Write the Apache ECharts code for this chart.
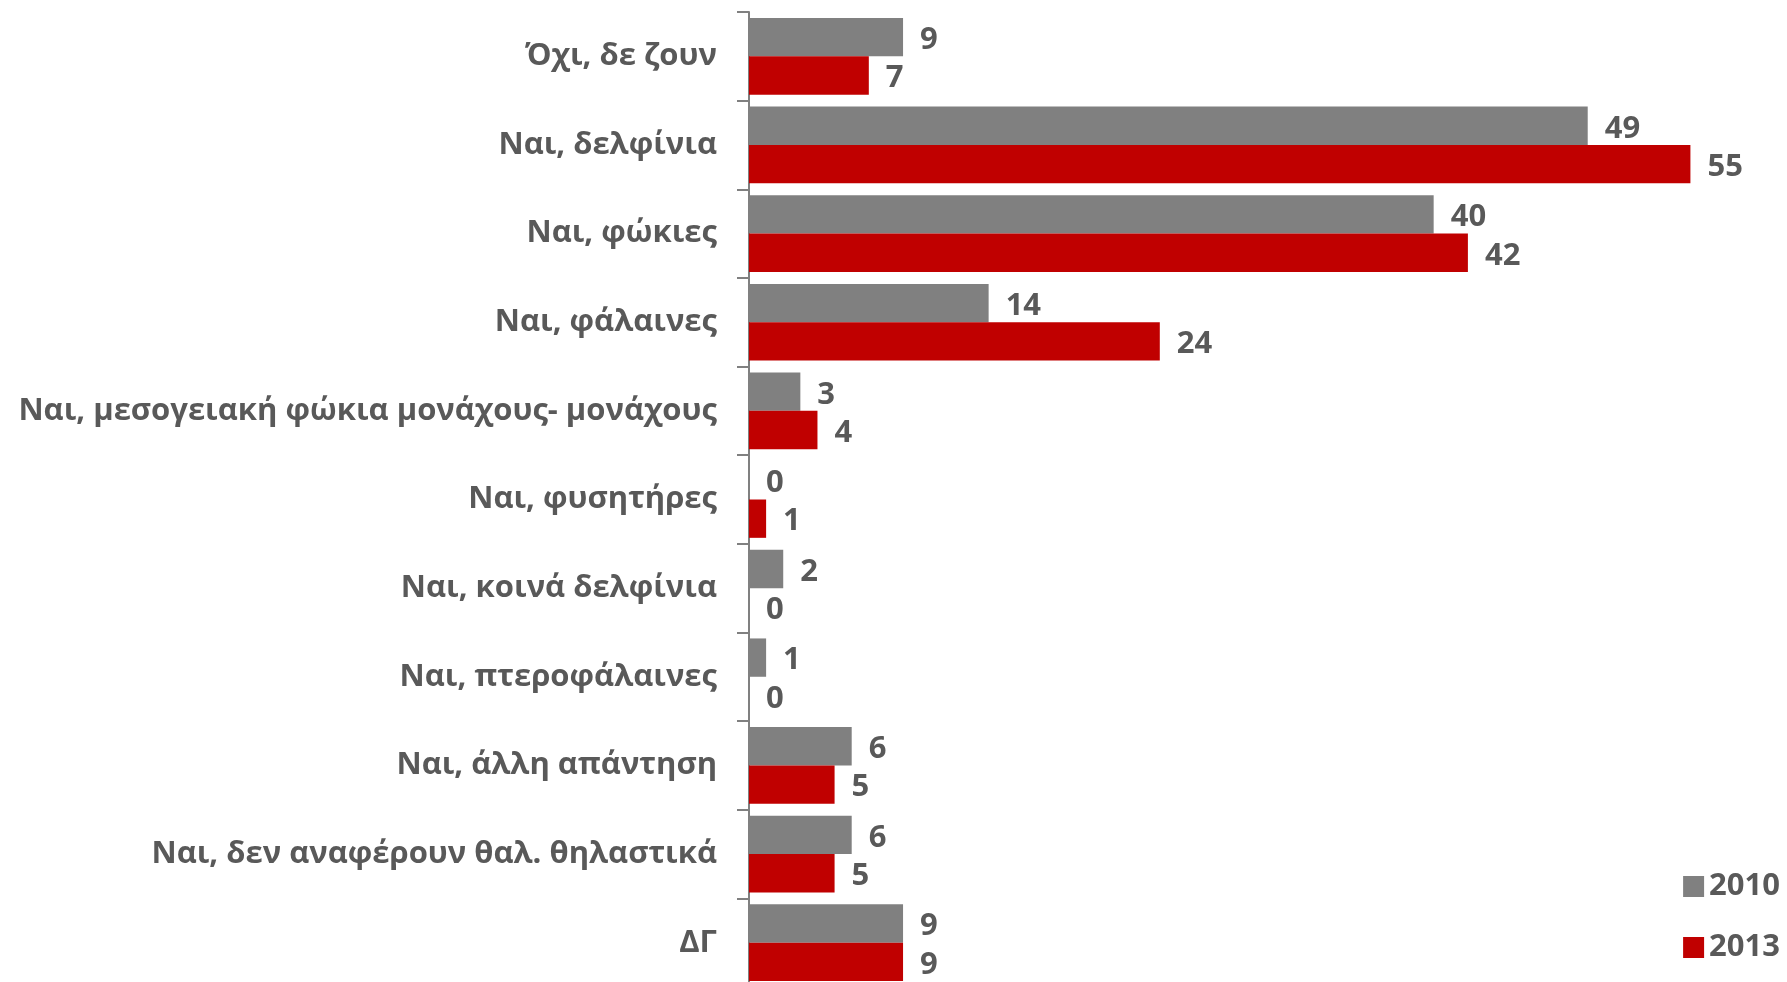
<!DOCTYPE html>
<html>
<head>
<meta charset="utf-8">
<script src="https://cdn.jsdelivr.net/npm/echarts@6.0.0/dist/echarts.min.js"></script>
<style>
  html, body { margin: 0; padding: 0; background: #fff; }
  #chart { width: 1787px; height: 982px; }
</style>
</head>
<body>
<div id="chart"></div>
<script>
var categories = [
  'Όχι, δε ζουν',
  'Ναι, δελφίνια',
  'Ναι, φώκιες',
  'Ναι, φάλαινες',
  'Ναι, μεσογειακή φώκια μονάχους- μονάχους',
  'Ναι, φυσητήρες',
  'Ναι, κοινά δελφίνια',
  'Ναι, πτεροφάλαινες',
  'Ναι, άλλη απάντηση',
  'Ναι, δεν αναφέρουν θαλ. θηλαστικά',
  'ΔΓ'
];
var values2010 = [9, 49, 40, 14, 3, 0, 2, 1, 6, 6, 9];
var values2013 = [7, 55, 42, 24, 4, 1, 0, 0, 5, 5, 9];

var textColor = '#595959';
var fontFam = 'Open Sans, sans-serif';

var chart = echarts.init(document.getElementById('chart'));
var labelStyle = {
  show: true,
  position: 'right',
  distance: 17,
  offset: [0, 3],
  color: textColor,
  fontSize: 31,
  fontWeight: 'bold',
  fontFamily: fontFam
};
chart.setOption({
  animation: false,
  grid: { left: 749, width: 1027, top: 12, height: 975, outerBoundsMode: 'none' },
  legend: {
    orient: 'vertical',
    right: 2,
    bottom: 14,
    itemWidth: 21,
    itemHeight: 21,
    itemGap: 30,
    icon: 'rect',
    textStyle: { color: textColor, fontSize: 31, fontWeight: 'bold', fontFamily: fontFam },
    data: ['2010', '2013']
  },
  xAxis: {
    type: 'value',
    min: 0,
    max: 60,
    show: false
  },
  yAxis: {
    type: 'category',
    inverse: true,
    data: categories,
    axisLine: { show: true, lineStyle: { color: '#808080', width: 2 } },
    axisTick: { show: true, length: 12, lineStyle: { color: '#808080', width: 2 } },
    axisLabel: {
      margin: 32,
      padding: [6, 0, 0, 0],
      color: textColor,
      fontSize: 31,
      fontWeight: 'bold',
      fontFamily: fontFam
    }
  },
  series: [
    {
      name: '2010',
      type: 'bar',
      data: values2010,
      barGap: '0%',
      barCategoryGap: '13.5%',
      itemStyle: { color: '#808080' },
      label: labelStyle
    },
    {
      name: '2013',
      type: 'bar',
      data: values2013,
      itemStyle: { color: '#C00000' },
      label: labelStyle
    }
  ]
});
</script>
</body>
</html>
